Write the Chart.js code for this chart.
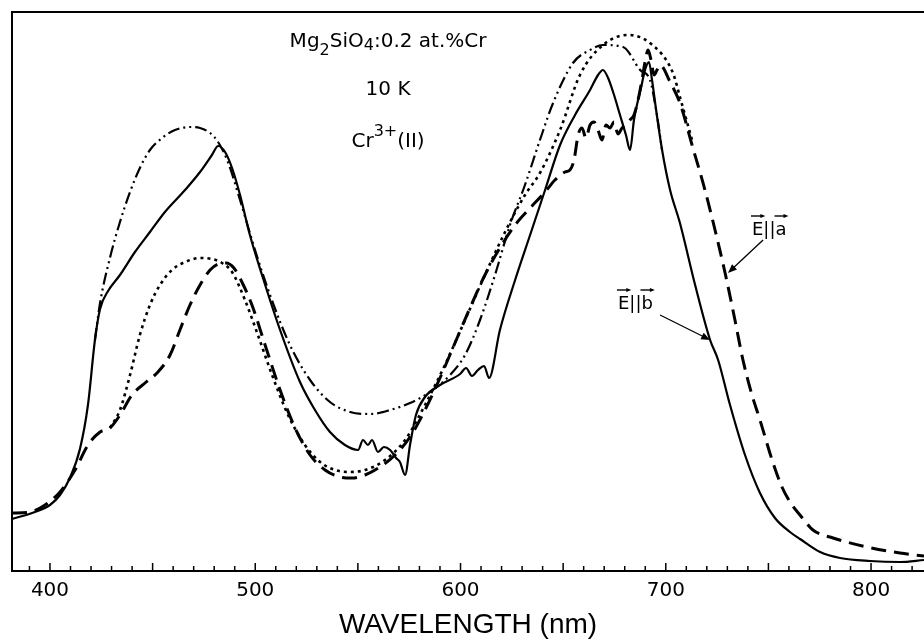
<!DOCTYPE html>
<html><head><meta charset="utf-8">
<script src="https://cdn.jsdelivr.net/npm/chart.js@4.4.1/dist/chart.umd.min.js"></script>
<style>html,body{margin:0;padding:0;background:#fff;}canvas{display:block;}</style>
</head><body>
<canvas id="c" width="924" height="644" style="width:924px;height:644px"></canvas>
<script>
// x: wavelength (nm), y: absorption (arbitrary units)
const tickLabels = [400, 500, 600, 700, 800];
const xMin = 381.5, xMax = 825.8, yMin = 0, yMax = 559;

// E || b experimental (solid)
const solidEb = [[381.5,52],[392.7,59],[400.0,66],[404.9,76],[409.7,93],[414.6,122],[418.5,166],[421.9,231],[424.4,262],[428.3,280],[434.1,296],[441.4,319],[448.7,339],[456.0,359],[465.8,381],[473.1,399],[478.9,416],[481.9,425],[485.3,419],[488.7,403],[492.6,376],[497.4,336],[503.3,296],[512.1,241],[521.8,189],[529.1,161],[536.4,139],[543.7,126],[550.1,121],[552.5,131],[554.9,126],[556.9,131],[559.8,119],[562.7,124],[565.7,121],[568.6,113],[570.5,109],[573.0,96],[575.4,126],[578.3,156],[582.7,174],[590.0,186],[599.8,197],[602.7,203],[605.6,195],[608.5,201],[611.5,205],[613.9,193],[619.2,241],[626.6,291],[633.9,336],[641.2,381],[648.5,426],[655.8,456],[663.1,481],[667.0,496],[669.4,501],[671.9,493],[674.8,476],[677.7,456],[680.6,436],[682.6,421],[684.5,451],[686.5,471],[687.9,483],[689.9,501],[691.8,509],[693.3,491],[695.3,461],[698.2,421],[702.1,381],[706.9,348],[714.3,286],[721.6,231],[725.5,211],[731.3,166],[738.6,116],[745.9,78],[753.2,53],[760.5,39],[765.4,32],[775.2,19],[784.9,13],[799.5,10],[814.1,9],[825.8,11]];

// E || a experimental (dashed)
const dashedEa = [[381.5,58],[390.3,59],[397.6,66],[404.9,79],[412.2,101],[418.5,126],[424.4,139],[429.2,143],[434.1,156],[439.9,176],[446.3,188],[452.6,199],[458.5,216],[463.3,241],[468.2,266],[473.1,286],[478.0,301],[481.9,307],[485.8,308],[489.6,303],[493.5,289],[498.4,266],[504.8,226],[512.1,181],[519.4,143],[526.7,116],[534.0,101],[541.3,94],[547.1,93],[553.5,96],[560.8,104],[568.1,116],[575.4,134],[582.7,161],[590.0,193],[597.3,228],[604.6,263],[611.9,296],[619.2,323],[626.6,346],[633.9,363],[641.2,379],[646.0,391],[650.9,399],[653.3,401],[655.3,411],[657.3,436],[659.2,443],[661.1,433],[663.1,446],[665.0,449],[667.0,441],[668.9,431],[670.9,446],[672.8,443],[674.8,449],[676.7,437],[678.7,443],[680.6,446],[682.6,451],[684.5,456],[686.5,471],[688.4,491],[689.9,509],[691.4,521],[692.8,511],[694.3,496],[695.7,501],[697.2,506],[702.1,489],[706.9,468],[712.8,426],[719.1,381],[724.0,341],[728.9,298],[733.7,251],[737.6,211],[742.0,176],[745.9,151],[751.8,111],[756.6,84],[761.5,66],[765.4,56],[771.7,41],[781.5,33],[798.1,24],[814.1,18],[825.8,15]];

// E || b fit (dash-dot-dot)
const fitEb = [[421.9,231],[424.4,268],[429.2,313],[434.1,349],[439.0,379],[443.8,403],[448.7,421],[454.6,433],[460.9,441],[468.2,444],[473.1,443],[478.0,438],[481.9,429],[486.7,409],[492.6,371],[499.9,321],[507.2,276],[516.9,226],[526.7,191],[536.4,169],[546.2,159],[555.9,157],[565.7,161],[575.4,168],[585.1,179],[594.9,196],[602.2,216],[609.5,251],[616.8,296],[624.1,346],[631.4,386],[638.7,431],[645.1,468],[654.8,508],[663.1,521],[669.4,526],[679.2,524],[687.5,501],[692.3,491],[695.3,461],[698.2,421]];

// E || a fit (dotted)
const fitEa = [[429.2,143],[434.1,161],[439.0,196],[443.8,236],[448.7,266],[453.6,286],[459.4,301],[465.8,309],[473.1,313],[478.9,312],[483.8,308],[488.7,299],[495.0,271],[501.3,236],[508.2,196],[516.0,156],[524.2,126],[531.6,109],[538.9,101],[546.2,99],[553.5,101],[563.2,111],[573.0,131],[582.7,166],[592.4,206],[602.2,251],[611.9,296],[621.7,339],[631.4,376],[638.7,398],[648.5,441],[658.2,496],[669.4,526],[681.6,536],[692.3,528],[703.5,498],[706.9,474],[712.8,431]];

const toXY = arr => arr.map(p => ({x: p[0], y: p[1]}));

const TXT = "'DejaVu Sans', 'Liberation Sans', sans-serif";

function drawRich(ctx, pieces, cx, by) {
  let w = 0;
  pieces.forEach(p => { ctx.font = (p.size || 20) + 'px ' + TXT; w += ctx.measureText(p.t).width; });
  let x = cx - w / 2;
  pieces.forEach(p => {
    ctx.font = (p.size || 20) + 'px ' + TXT;
    ctx.fillText(p.t, x, by + (p.dy || 0));
    x += ctx.measureText(p.t).width;
  });
}
function arrow(ctx, x1, y1, x2, y2, head, lw) {
  const ang = Math.atan2(y2 - y1, x2 - x1);
  ctx.lineWidth = lw;
  ctx.beginPath(); ctx.moveTo(x1, y1);
  ctx.lineTo(x2 - Math.cos(ang) * head * 0.8, y2 - Math.sin(ang) * head * 0.8); ctx.stroke();
  ctx.beginPath();
  ctx.moveTo(x2, y2);
  ctx.lineTo(x2 - head * Math.cos(ang) + head * 0.4 * Math.sin(ang), y2 - head * Math.sin(ang) - head * 0.4 * Math.cos(ang));
  ctx.lineTo(x2 - head * Math.cos(ang) - head * 0.4 * Math.sin(ang), y2 - head * Math.sin(ang) + head * 0.4 * Math.cos(ang));
  ctx.closePath(); ctx.fill();
}
function vecLabel(ctx, x, by, letter) {
  // "E || a" with vector arrows over E and over the axis letter
  ctx.font = '18px ' + TXT;
  const sE = 'E', sMid = '||', sL = letter;
  const wE = ctx.measureText(sE).width, wM = ctx.measureText(sMid).width, wL = ctx.measureText(sL).width;
  ctx.fillText(sE + sMid + sL, x, by);
  const ay = by - 19;
  arrow(ctx, x - 1, ay, x + wE + 2, ay, 5, 1.4);
  arrow(ctx, x + wE + wM - 1, ay, x + wE + wM + wL + 2, ay, 5, 1.4);
}

const frame = {
  id: 'frame',
  afterDraw(chart) {
    const {ctx, chartArea: a, scales: {x, y}} = chart;
    ctx.save();
    ctx.strokeStyle = '#000'; ctx.fillStyle = '#000';
    ctx.lineWidth = 2;
    ctx.beginPath();
    ctx.moveTo(a.left, a.bottom); ctx.lineTo(a.left, a.top); ctx.lineTo(a.right, a.top);
    ctx.stroke();
    // minor (10 nm) and major (50 nm) tick marks pointing inward
    ctx.lineWidth = 1.5;
    for (let v = 390; v <= 820; v += 10) {
      const px = x.getPixelForValue(v);
      const len = (v % 50 === 0) ? 8 : 5;
      ctx.beginPath(); ctx.moveTo(px, a.bottom); ctx.lineTo(px, a.bottom - len); ctx.stroke();
    }
    // header text block
    ctx.textBaseline = 'alphabetic'; ctx.textAlign = 'left';
    const cx = x.getPixelForValue(564.7);
    drawRich(ctx, [{t: 'Mg'}, {t: '2', size: 16, dy: 8}, {t: 'SiO'}, {t: '4', size: 16, dy: 3}, {t: ':0.2 at.%Cr'}], cx, y.getPixelForValue(524));
    drawRich(ctx, [{t: '10 K'}], cx, y.getPixelForValue(476));
    drawRich(ctx, [{t: 'Cr'}, {t: '3+', size: 16, dy: -11}, {t: '(II)'}], cx, y.getPixelForValue(424));
    // polarisation labels with pointer arrows
    ctx.strokeStyle = '#000';
    vecLabel(ctx, x.getPixelForValue(742.0), y.getPixelForValue(336), 'a');
    vecLabel(ctx, x.getPixelForValue(676.7), y.getPixelForValue(262), 'b');
    arrow(ctx, x.getPixelForValue(747.4), y.getPixelForValue(331), x.getPixelForValue(730.3), y.getPixelForValue(298), 9, 1.3);
    arrow(ctx, x.getPixelForValue(697.2), y.getPixelForValue(256), x.getPixelForValue(721.6), y.getPixelForValue(231), 9, 1.3);
    ctx.restore();
  }
};

const base = {pointRadius: 0, borderColor: '#000', fill: false, cubicInterpolationMode: 'monotone', borderCapStyle: 'butt'};

new Chart(document.getElementById('c'), {
  type: 'line',
  data: {
    datasets: [
      Object.assign({label: 'E||a fit', data: toXY(fitEa), borderWidth: 2.6, borderDash: [3, 4]}, base),
      Object.assign({label: 'E||b fit', data: toXY(fitEb), borderWidth: 2.2, borderDash: [12, 4, 2, 4, 2, 4]}, base),
      Object.assign({label: 'E||a', data: toXY(dashedEa), borderWidth: 3, borderDash: [15, 8]}, base),
      Object.assign({label: 'E||b', data: toXY(solidEb), borderWidth: 2.2}, base)
    ]
  },
  options: {
    responsive: false,
    animation: false,
    devicePixelRatio: 1,
    layout: {padding: {left: 12, top: 12, right: 0, bottom: 0}},
    plugins: {legend: {display: false}, tooltip: {enabled: false}},
    scales: {
      x: {
        type: 'linear', min: xMin, max: xMax,
        grid: {display: false, drawTicks: false},
        border: {display: true, color: '#000', width: 2},
        afterBuildTicks: s => { s.ticks = tickLabels.map(v => ({value: v})); },
        afterFit: s => { s.height = 73; },
        ticks: {color: '#000', font: {family: TXT, size: 20}, padding: 8, maxRotation: 0, autoSkip: false},
        title: {display: true, text: 'WAVELENGTH (nm)', color: '#000', font: {family: "'Liberation Sans', Arial, sans-serif", size: 28}, padding: {top: 0, bottom: 2}}
      },
      y: {display: false, min: yMin, max: yMax}
    }
  },
  plugins: [frame]
});
</script>
</body></html>
